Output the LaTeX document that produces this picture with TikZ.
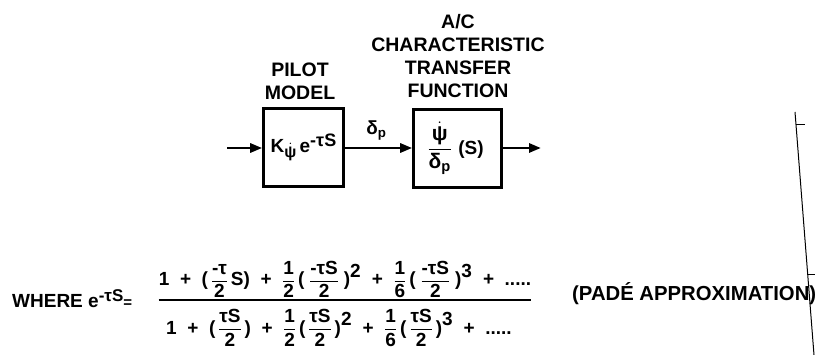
\documentclass[tikz,border=0pt]{standalone}
\usepackage{amsmath}
\usepackage{fontspec}
\setmainfont{Liberation Sans}
\usetikzlibrary{arrows.meta, positioning, calc}

\newcommand{\tx}[1]{\text{#1}}
\newcommand{\up}[1]{^{\textstyle\tx{#1}}}

\begin{document}
\begin{tikzpicture}[x=1pt,y=-1pt,
	blockbox/.style={draw,line width=2.6pt,minimum height=78pt,inner sep=0pt,font=\fontsize{19}{21}\selectfont\bfseries},
	sig/.style={line width=2.8pt,-{Triangle[length=12pt,width=9pt]}},
	lbl/.style={font=\fontsize{19.5}{22.7}\selectfont\bfseries,align=center,inner sep=0pt},
	eqtxt/.style={font=\fontsize{19}{21}\selectfont\bfseries,inner sep=0pt}]
	\useasboundingbox (0,0) rectangle (816,355);
	% blocks
	\node[blockbox,minimum width=80pt] (pilot) at (303.5,147.5) {K\raisebox{-5pt}{\fontsize{16}{16}\selectfont$\dot{\tx{ψ}}$}\,e\raisebox{6pt}{\fontsize{18}{18}\selectfont -τS}};
	\node[blockbox,minimum width=88pt] (ac) at (457.5,148.5) {\hspace*{-4pt}{\fontsize{21}{22}\selectfont$\dfrac{\dot{\tx{ψ}}}{\tx{δ}_{\tx{p}}}$}\,\,(S)};
	\node[lbl] (pilottxt) at (300,81) {PILOT\\MODEL};
	\node[lbl] (actxt) at (458,56) {A/C\\CHARACTERISTIC\\TRANSFER\\FUNCTION};
	% signals
	\coordinate (in) at (227,148);
	\coordinate (out) at (541,148);
	\draw[sig] (in) -- (in-|pilot.west);
	\draw[sig] (pilot.east|-in) -- (ac.west|-in) node[midway,above=3pt,xshift=-2pt,font=\fontsize{19}{21}\selectfont\bfseries] (dp) {$\tx{δ}_{\tx{p}}$};
	\draw[sig] (ac.east|-in) -- (out);
	% pade
	\node[eqtxt,anchor=west] (where) at (12,299) {WHERE e\raisebox{6pt}{\fontsize{17}{17}\selectfont -τS}{\fontsize{15}{15}\selectfont =}};
	\node[eqtxt,anchor=south] (num) at (345,298) {$\tx{1 \ + \ (}\,\dfrac{\tx{-τ}}{\tx{2}}\,\tx{S) \ + \ }\dfrac{\tx{1}}{\tx{2}}\,\tx{(}\;\dfrac{\tx{-τS}}{\tx{2}}\;\tx{)}\up{2}\tx{ \ + \ }\dfrac{\tx{1}}{\tx{6}}\,\tx{(}\;\dfrac{\tx{-τS}}{\tx{2}}\;\tx{)}\up{3}\tx{ \ + \ .....}$};
	\node[eqtxt,anchor=north] (den) at (339,309) {$\tx{1 \ + \ (}\,\dfrac{\tx{τS}}{\tx{2}}\,\tx{) \ + \ }\dfrac{\tx{1}}{\tx{2}}\,\tx{(}\,\dfrac{\tx{τS}}{\tx{2}}\,\tx{)}\up{2}\tx{ \ + \ }\dfrac{\tx{1}}{\tx{6}}\,\tx{(}\,\dfrac{\tx{τS}}{\tx{2}}\,\tx{)}\up{3}\tx{ \ + \ .....}$};
	\draw[line width=2.4pt] (num.south west|-0,300) -- (num.south east|-0,300);
	\node[eqtxt,anchor=west,font=\fontsize{20.3}{22}\selectfont\bfseries] (pade) at (572,294) {(PADÉ APPROXIMATION)};
	% page edge
	\coordinate (edgetop) at (795,112);
	\coordinate (edgebot) at (814,355);
	\draw[line width=1pt] (edgetop) -- (edgebot);
	\draw[line width=0.8pt] ($(edgetop)!0.05!(edgebot)$) -- ++(9,0);
	\draw[line width=0.8pt] ($(edgetop)!0.67!(edgebot)$) -- ++(7,0);
\end{tikzpicture}
\end{document}
